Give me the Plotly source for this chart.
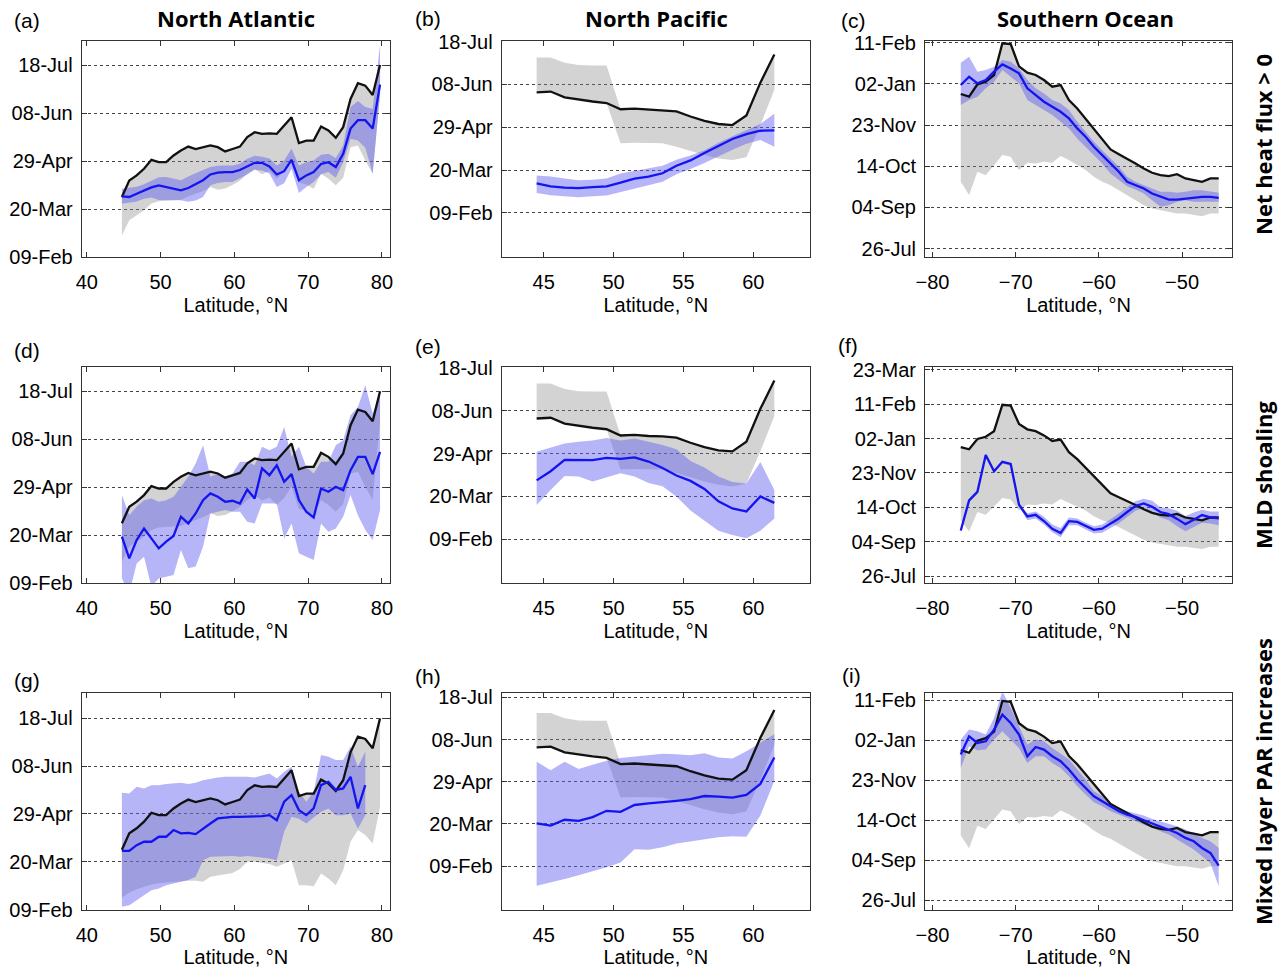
import plotly.graph_objects as go

# ---------------- latitude grids ----------------
lat_na = [44.75, 45.75, 46.75, 47.75, 48.75, 49.75, 50.75, 51.75, 52.75, 53.75,
          54.75, 55.75, 56.75, 57.75, 58.75, 59.75, 60.75, 61.75, 62.75, 63.75,
          64.75, 65.75, 66.75, 67.75, 68.75, 69.75, 70.75, 71.75, 72.75, 73.75,
          74.75, 75.75, 76.75, 77.75, 78.75, 79.75]
lat_np = [44.5, 45.5, 46.5, 47.5, 48.5, 49.5, 50.5, 51.5, 52.5, 53.5,
          54.5, 55.5, 56.5, 57.5, 58.5, 59.5, 60.5, 61.5]
lat_so = [-76.6, -75.6, -74.6, -73.6, -72.6, -71.6, -70.6, -69.6, -68.6, -67.6,
          -66.6, -65.6, -64.6, -63.6, -62.6, -61.6, -60.6, -59.6, -58.6, -57.6,
          -56.6, -55.6, -54.6, -53.6, -52.6, -51.6, -50.6, -49.6, -48.6, -47.6,
          -46.6, -45.6]

# ---------------- tick labels ----------------
nh_tickvals = [40, 80, 120, 160, 200]
nh_ticktext = ['09-Feb', '20-Mar', '29-Apr', '08-Jun', '18-Jul']
sh_tickvals = [207, 247, 287, 327, 367, 407, 447]
sh_ticktext = ['26-Jul', '04-Sep', '14-Oct', '23-Nov', '02-Jan', '11-Feb', '23-Mar']

# ---------------- North Atlantic (day of year) ----------------
black_na = [90, 103.8, 108, 113.5, 121, 119, 119, 124.6, 128.8, 132, 130, 131.5, 133, 131.5,
            128, 130, 132, 140, 144, 142.6, 143, 142.6, 149.6, 156.5, 135, 137, 137, 148.7,
            145.4, 139.3, 148.2, 171.7, 184.8, 182.8, 175, 200]
gray_lo_na = [58, 70.6, 74.7, 79, 84.5, 86.5, 87.2, 87.2, 87.8, 90.5, 93, 95, 98.3, 96, 97,
              100, 103.5, 109.5, 113.3, 109, 111.6, 105.2, 111, 120.5, 102, 100.5, 96.9,
              109.4, 105.2, 99.7, 106, 131.5, 132.9, 120.5, 109.4, 175]
gray_lo_g = [50, 54, 57, 59, 61, 62, 63, 63, 63.5, 64, 64, 63.2, 67.4, 68.8, 69.5, 70.5, 74,
             80, 80, 79, 78, 75.7, 78.5, 81.3, 60.4, 60.4, 59.5, 70.1, 65.9, 60.4, 72.9,
             96.7, 106.5, 102.3, 95.3, 126]
blue_a = [90.5, 90, 92.7, 95.5, 98, 99.7, 98.5, 97, 95.5, 97.5, 100.5, 104, 108.8, 110.3,
          110.8, 110.8, 112.5, 115.5, 118.5, 118.5, 115.5, 108.8, 111.5, 121, 104, 108,
          110.8, 117.5, 119, 115, 126, 147, 154, 154, 147, 183.6]
blue_up_a = [96.9, 97.6, 98.5, 100.6, 103.5, 106.5, 106.6, 105, 104, 107, 110, 112.5, 114.9,
             116, 116.3, 116.3, 117.8, 121.8, 124.4, 123.6, 122, 116.3, 120.5, 130.2, 116.3,
             119, 120.5, 125.2, 126, 122.5, 133, 165, 170, 165, 163.4, 217]
blue_lo_a = [84.4, 85.2, 86.3, 88.5, 89.5, 87.6, 87.2, 87.2, 87.2, 86, 87, 90, 99.7, 101.7,
             102.4, 102.4, 105.3, 108.8, 112.7, 112, 109.5, 98.3, 101.5, 113.5, 93.3, 98.3,
             102.4, 109, 110.8, 106, 119, 138.5, 137, 131, 109.4, 175.9]
blue_d = [78.8, 60.8, 76, 85.7, 77.4, 69.1, 74.7, 79.4, 95.5, 89.9, 98.2, 109.3, 114.9, 112.1,
          107.9, 108.8, 106.5, 118.2, 110.7, 135.7, 130.1, 138.4, 124.6, 131, 109.3, 99.6,
          94.9, 119, 116.3, 120.4, 117.6, 134.3, 145.4, 145.4, 131, 149.5]
blue_up_d = [113.5, 96.8, 103.8, 109.3, 110.7, 107.9, 109.3, 112.1, 120.4, 128.7, 139.8,
             155.1, 128.7, 131.5, 128.7, 131.5, 141.2, 141.2, 138.4, 153.7, 150.9, 153.7,
             170.3, 145.4, 153.7, 137, 131.5, 141.2, 141.2, 155.1, 159.2, 180, 187, 205,
             181.4, 199.4]
blue_lo_d = [44.1, 31.7, 56.6, 62.2, 37.2, 44.1, 45.5, 46.9, 67.7, 52.5, 53.9, 70.5, 98.2,
             99.6, 101, 99.6, 99.6, 91.3, 89.9, 106.5, 106.5, 106.5, 77.4, 89.9, 65, 62.2,
             59.5, 89.9, 82.9, 85.7, 95.5, 113.5, 96.8, 84.4, 76, 101]
blue_g = [89.1, 89.1, 93.9, 96.7, 96.7, 100.9, 100.9, 106.5, 103.7, 104.2, 103.1, 107.8, 112,
          116.2, 117.1, 117.6, 117.6, 117.6, 117.6, 118.2, 119, 114.8, 130.2, 135.8, 123.2,
          119, 124.6, 144.1, 146.9, 140, 141.4, 151.1, 124.6, 144.1, None, None]
blue_up_g = [137.7, 137.2, 142.8, 141.4, 144.1, 144.1, 145, 145.5, 146.1, 145, 146.1, 148.3,
             149.7, 150.6, 151.1, 151.1, 151.7, 151.1, 150.6, 152.5, 153.9, 149.7, 155.3,
             159.5, 138.6, 130.2, 138.6, 169.3, 167.9, 165.1, 165.1, 176.3, 159.5, 172.1,
             None, None]
blue_lo_g = [42.2, 43.6, 47.8, 52, 56.2, 57.6, 60.4, 61.8, 63.2, 64.6, 67.4, 81.3, 84.1, 84.7,
             84.7, 84.7, 84.1, 84.7, 84.1, 83.6, 82.7, 81.3, 105.1, 117.6, 116, 112, 117,
             121.8, 124.6, 119, 119, 120.4, 107.8, 119, None, None]

# ---------------- North Pacific (day of year) ----------------
black_np = [152.6, 153.3, 147.9, 145.7, 144, 142.6, 136.8, 137.3, 136.3, 136, 134.7, 130,
            126, 123, 122, 131, 161.6, 188]
gray_up_np = [185.1, 185.1, 180.2, 178, 177.7, 177.7, 136.8, 137.3, 136.3, 136, 134.7, 130,
              126, 123, 122, 131, 161.6, 188]
gray_lo_np = [152.6, 153.3, 147.9, 145.7, 144, 142.6, 105, 105.6, 105.6, 105, 101.8, 98, 94,
              90.8, 89.3, 92, 122, 155]
blue_b = [67.5, 64.8, 63.5, 63.2, 64.1, 64.8, 68.2, 72, 73.8, 77, 84, 89, 96, 102.5, 109,
          113.5, 116.7, 117]
blue_up_b = [75, 74, 72, 70.5, 71, 72, 76.7, 79, 81, 84, 89.5, 93.5, 98.5, 105.5, 111.5,
             117.5, 123, 132.5]
blue_lo_b = [58.5, 56.5, 55.5, 54.7, 55.5, 56.3, 59.5, 63, 66, 69, 76, 81, 86.5, 92.5, 99,
             104.5, 108, 101.8]
blue_e = [95, 103.5, 114, 114, 113.8, 116, 115, 116.3, 112.5, 106.5, 99.5, 94.5, 87, 75.5,
          68.8, 66, 80, 74]
blue_up_e = [121.6, 125.5, 129.3, 131, 132, 134.5, 132, 134, 131, 128, 124, 113, 107, 98.5,
             93.5, 92, 112, 86]
blue_lo_e = [72, 86, 99, 98.5, 94, 97.5, 101.5, 98.5, 92.5, 89.5, 80, 67, 57.5, 48, 44, 41,
             48, 59.5]
blue_h = [80.5, 78.5, 84, 83, 86.5, 92.5, 91.5, 98, 99.5, 100.5, 102, 103.5, 106.5, 106, 105,
          107.5, 118, 143]
blue_up_h = [139, 131, 139, 132, 136, 140, 142.5, 143.7, 145, 146.5, 146, 145, 147, 143,
             142.1, 149, 157, 165]
blue_lo_h = [21.5, 25, 28, 31.5, 35, 39, 43.5, 56, 55.5, 58, 61.5, 64, 65.5, 67.5, 68.3, 68,
             88, 121]

# ---------------- Southern Ocean (days from 1 Jan of the winter year) ----------------
black_so = [357.1, 354.5, 366.5, 369.1, 375.6, 406.4, 405.5, 384, 377.8, 375.6, 370.7, 364.2,
            365.8, 351.2, 343.1, 333.4, 323.7, 313.9, 303.3, 298.7, 294.5, 289.7, 284.8,
            280.6, 278.3, 277.3, 279.3, 275.1, 273.5, 271.8, 275.1, 275.1]
gray_lo_so = [271.8, 258.9, 281.6, 278.3, 288, 297.8, 296.1, 283.2, 290.3, 289.7, 291.3,
              290.3, 296.8, 292.9, 288, 283.2, 276.7, 271.8, 268.6, 263.7, 258.9, 254, 249.1,
              245.9, 244.3, 242.7, 241, 241, 239.4, 238.4, 241, 241]
blue_c = [365.8, 373.9, 367.5, 370.7, 378.8, 385.9, 382, 377.2, 362.6, 356.1, 349.6, 344.8,
          339.9, 333.4, 323.7, 315.6, 305.9, 297.8, 289.7, 281.6, 271.8, 268.6, 265.3, 260.5,
          257.2, 254.6, 254.6, 255.3, 256.6, 257.2, 257.2, 256.3]
blue_up_c = [387.5, 393.4, 378.8, 380.4, 383.7, 390.1, 388.5, 382, 370.7, 362.6, 357.7, 351.2,
             348, 341.5, 330.2, 320.5, 310.7, 302.6, 294.5, 286.4, 276.7, 271.8, 268.6, 265.3,
             262.1, 262.1, 261.1, 262.1, 263.7, 263.7, 262.1, 261.1]
blue_lo_c = [346.4, 351.2, 354.5, 362.6, 369.1, 380.4, 373.9, 367.5, 351.2, 346.4, 341.5,
             336.7, 330.2, 323.7, 314, 305.9, 297.8, 289.7, 280, 273.5, 267.6, 264.4, 260.5,
             254, 247.5, 249.1, 252.4, 254, 252.4, 252.4, 252.4, 252.4]
blue_f = [260, 295, 305, 348, 329, 339.9, 337.5, 290, 276.4, 278.3, 271, 262, 257, 270.8, 270,
          265, 260.8, 262, 268, 274, 281.5, 288.5, 291.5, 287.5, 281.5, 279, 273.5, 267.4,
          272.5, 278, 275.3, 274.2]
blue_up_f = [261, 296, 306, 349, 330, 341, 338.5, 292, 280, 282, 276, 267, 263, 275, 274, 269,
             265, 267, 273, 279.5, 287, 294, 297, 294.5, 287, 286, 283, 277, 281, 284, 282, 282]
blue_lo_f = [258, 293, 303, 346, 327, 338, 335.5, 288, 272, 274, 267, 258, 252, 266, 266, 261,
             256.5, 257.5, 263, 268.5, 275.5, 283, 286, 281, 275, 272, 265, 259, 264, 269, 268,
             266]
blue_i = [352.7, 371, 364.3, 366, 377.7, 392.7, 384.3, 372.7, 351, 360.3, 357.7, 351, 346,
          337.7, 327.7, 319.3, 311, 306, 301, 296, 292.7, 290.3, 287, 283.7, 281, 277.7,
          274.3, 269.3, 266, 259.3, 254.3, 241.7]
blue_up_i = [367.7, 377.7, 376, 372.7, 389.3, 416, 399.3, 381, 362.7, 367.7, 366, 359.3,
             353.7, 347.7, 337.7, 327.7, 316, 311, 305, 299.3, 296, 293.7, 291.7, 288.3, 286,
             283.7, 281, 277.7, 274.3, 269.3, 266, 259.3]
blue_lo_i = [339.3, 361, 357, 357.7, 367.7, 376, 367.7, 359.3, 344.3, 351, 351, 344.3, 339.3,
             331, 321, 312.7, 305, 301, 296, 292.7, 289.3, 286, 282.7, 279.3, 276, 272.7,
             267.7, 262.7, 257.7, 251, 244.3, 221]

# ---------------- panel definitions ----------------
panels = [
    ('(a)', lat_na, black_na, black_na, gray_lo_na, blue_a, blue_up_a, blue_lo_a, [40, 220]),
    ('(b)', lat_np, black_np, gray_up_np, gray_lo_np, blue_b, blue_up_b, blue_lo_b, [-1.2, 200.5]),
    ('(c)', lat_so, black_so, black_so, gray_lo_so, blue_c, blue_up_c, blue_lo_c, [198.8, 408.6]),
    ('(d)', lat_na, black_na, black_na, gray_lo_na, blue_d, blue_up_d, blue_lo_d, [40, 220]),
    ('(e)', lat_np, black_np, gray_up_np, gray_lo_np, blue_e, blue_up_e, blue_lo_e, [-0.9, 200.3]),
    ('(f)', lat_so, black_so, black_so, gray_lo_so, blue_f, blue_up_f, blue_lo_f, [198.5, 450]),
    ('(g)', lat_na, black_na, black_na, gray_lo_g, blue_g, blue_up_g, blue_lo_g, [40, 221]),
    ('(h)', lat_np, black_np, gray_up_np, gray_lo_np, blue_h, blue_up_h, blue_lo_h, [-1, 203.8]),
    ('(i)', lat_so, black_so, black_so, gray_lo_so, blue_i, blue_up_i, blue_lo_i, [197.7, 414]),
]

W, H = 1285, 977
col_px = [(81.7, 390.0), (501.7, 810.0), (925.0, 1232.0)]
row_px = [(41.0, 257.0), (367.3, 583.3), (693.3, 909.5)]
x_ranges = [[39.3, 81.1], [42.0, 64.05], [-80.9, -44.0]]
x_ticks = [[40, 50, 60, 70, 80], [45, 50, 55, 60], [-80, -70, -60, -50]]
label_pos = [(27, 20), (428, 18), (853, 20), (27, 350), (428, 346), (848, 345),
             (27, 680), (428, 676), (851, 675)]

GRAY_FILL = 'rgba(128,128,128,0.35)'
BLUE_FILL = 'rgba(90,90,240,0.45)'
BLUE = '#1414f0'
BLACK = '#111111'
FONT = 'Liberation Sans, Arial, sans-serif'
BOLD = 'Open Sans, Liberation Sans, Arial, sans-serif'


def band(lat, up, lo):
    xs, yu, yl = [], [], []
    for x, u, l in zip(lat, up, lo):
        if u is None or l is None:
            continue
        xs.append(x)
        yu.append(u)
        yl.append(l)
    return xs + xs[::-1], yu + yl[::-1]


fig = go.Figure()
layout = {}
annotations = []

for i, (lab, lat, blk, gup, glo, bl, bup, blo, yr) in enumerate(panels):
    n = i + 1
    r, c = divmod(i, 3)
    xa = 'x' if n == 1 else f'x{n}'
    ya = 'y' if n == 1 else f'y{n}'

    gx, gy = band(lat, gup, glo)
    fig.add_trace(go.Scatter(x=gx, y=gy, fill='toself', fillcolor=GRAY_FILL,
                             line=dict(width=0), mode='lines', hoverinfo='skip',
                             xaxis=xa, yaxis=ya))
    bx, by = band(lat, bup, blo)
    fig.add_trace(go.Scatter(x=bx, y=by, fill='toself', fillcolor=BLUE_FILL,
                             line=dict(width=0), mode='lines', hoverinfo='skip',
                             xaxis=xa, yaxis=ya))
    fig.add_trace(go.Scatter(x=lat, y=blk, mode='lines', line=dict(color=BLACK, width=2.3),
                             xaxis=xa, yaxis=ya))
    fig.add_trace(go.Scatter(x=lat, y=bl, mode='lines', line=dict(color=BLUE, width=2.3),
                             connectgaps=False, xaxis=xa, yaxis=ya))

    x0, x1 = col_px[c]
    y0, y1 = row_px[r]
    if c == 2:
        tv, tt = sh_tickvals, sh_ticktext
    else:
        tv, tt = nh_tickvals, nh_ticktext

    layout['xaxis' if n == 1 else f'xaxis{n}'] = dict(
        domain=[x0 / W, x1 / W], anchor=ya, range=x_ranges[c], tickvals=x_ticks[c],
        ticks='inside', ticklen=5, tickcolor='#333', mirror='ticks', showline=True,
        linecolor='#333', linewidth=1, showgrid=False, zeroline=False,
        tickfont=dict(family=FONT, size=20, color='black'), ticklabelstandoff=7,
        title=dict(text='Latitude, °N', standoff=5, font=dict(family=FONT, size=20, color='black')),
        automargin=False, fixedrange=True)
    layout['yaxis' if n == 1 else f'yaxis{n}'] = dict(
        domain=[1 - y1 / H, 1 - y0 / H], anchor=xa, range=yr, tickvals=tv, ticktext=tt,
        ticks='inside', ticklen=5, tickcolor='#333', mirror='ticks', showline=True,
        linecolor='#333', linewidth=1, showgrid=True, gridcolor='#444', griddash='dot',
        gridwidth=1.2, zeroline=False, tickfont=dict(family=FONT, size=20, color='black'),
        ticklabelstandoff=4, automargin=False, fixedrange=True)

    lx, ly = label_pos[i]
    annotations.append(dict(text=lab, x=lx / W, y=1 - ly / H, xref='paper', yref='paper',
                            showarrow=False, xanchor='center', yanchor='middle',
                            font=dict(family=FONT, size=21, color='black')))

titles = [('North Atlantic', 236), ('North Pacific', 656), ('Southern Ocean', 1085)]
for t, xc in titles:
    annotations.append(dict(text=f'<b>{t}</b>', x=xc / W, y=1 - 18 / H, xref='paper',
                            yref='paper', showarrow=False, xanchor='center', yanchor='middle',
                            font=dict(family=BOLD, size=22, color='black')))

row_labels = [('Net heat flux > 0', 145), ('MLD shoaling', 475),
              ('Mixed layer PAR increases', 782)]
for t, yc in row_labels:
    annotations.append(dict(text=f'<b>{t}</b>', x=1263 / W, y=1 - yc / H, xref='paper',
                            yref='paper', showarrow=False, xanchor='center', yanchor='middle',
                            textangle=-90, font=dict(family=BOLD, size=22, color='black')))

fig.update_layout(width=W, height=H, margin=dict(l=0, r=0, t=0, b=0),
                  paper_bgcolor='white', plot_bgcolor='white', showlegend=False,
                  annotations=annotations, **layout)

fig.write_html('out.html')
